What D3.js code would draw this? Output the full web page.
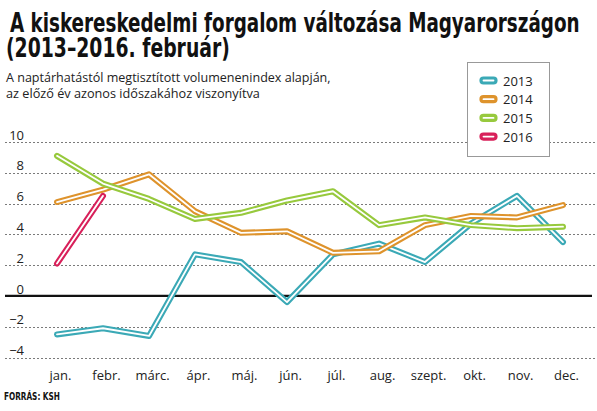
<!DOCTYPE html>
<html><head><meta charset="utf-8">
<script src="https://cdn.jsdelivr.net/npm/d3@7"></script>
<style>
body{margin:0;background:#fff;}
svg{display:block;}
</style></head>
<body><svg id="c" width="597" height="411"></svg>
<script>
const months = ["jan.","febr.","márc.","ápr.","máj.","jún.","júl.","aug.","szept.","okt.","nov.","dec."];
const s2013 = [-2.5,-2.1,-2.6,2.7,2.2,-0.4,2.7,3.4,2.2,4.7,6.5,3.5];
const s2014 = [6.1,6.9,7.9,5.5,4.1,4.2,2.8,2.9,4.6,5.2,5.1,5.9];
const s2015 = [9.1,7.3,6.3,5.0,5.4,6.2,6.8,4.6,5.1,4.6,4.4,4.5];
const s2016 = [2.1,6.5];
const seriesNames = ["2013","2014","2015","2016"];
const seriesColors = ["#3ba9b6","#de932c","#97c93d","#d8205a"];
const yTicks = [10,8,6,4,2,0,-2,-4];

const series = [s2013,s2014,s2015,s2016];
const svg = d3.select("#c");
const x = d3.scalePoint().domain(months).range([57,563]);
const y = d3.scaleLinear().domain([-4,10]).range([357.5,142]);

// fit a text to a target width by horizontal scaling
function fitText(sel, x0, y0, w){
  const nat = sel.node().getComputedTextLength();
  const sx = w / nat;
  sel.attr("x",0).attr("y",0).attr("transform",`translate(${x0},${y0}) scale(${sx},1)`);
}

// title
const tf = "'Liberation Sans Narrow','DejaVu Sans Condensed','Liberation Sans',sans-serif";
const t1 = svg.append("text").attr("font-family",tf).attr("font-weight","bold")
  .attr("font-size",27).attr("fill","#111")
  .text("A kiskereskedelmi forgalom változása Magyarországon");
fitText(t1,10,31.5,570);
const t2 = svg.append("text").attr("font-family",tf).attr("font-weight","bold")
  .attr("font-size",27).attr("fill","#111")
  .text("(2013–2016. február)");
fitText(t2,6,57,224);
const sf = "'Open Sans','Noto Sans',sans-serif";
const st1 = svg.append("text").attr("font-family",sf).attr("font-size",12.5).attr("fill","#222")
  .text("A naptárhatástól megtisztított volumenenindex alapján,");
fitText(st1,6,81.5,325);
const st2 = svg.append("text").attr("font-family",sf).attr("font-size",12.5).attr("fill","#222")
  .text("az előző év azonos időszakához viszonyítva");
fitText(st2,6,97.5,254);

// grid
const g = svg.append("g");
yTicks.filter(d=>d!==0).forEach(t=>{
  g.append("line").attr("x1",5).attr("x2",597).attr("y1",Math.round(y(t))+0.5).attr("y2",Math.round(y(t))+0.5)
   .attr("stroke","#7a7a7a").attr("stroke-width",1).attr("stroke-dasharray","2,2");
});
g.append("line").attr("x1",5).attr("x2",592).attr("y1",y(0)).attr("y2",y(0))
  .attr("stroke","#111").attr("stroke-width",2.2);

// y labels
const yAxis = d3.axisLeft(y).tickValues(yTicks).tickSize(0).tickFormat(d=>d<0?"−"+Math.abs(d):d);
const ya = svg.append("g").attr("transform","translate(24,-7)").call(yAxis);
ya.select(".domain").remove();
ya.selectAll("text").attr("font-family",sf).attr("font-size",13).attr("fill","#222").attr("dx",0).attr("x",0);

// x labels
const xAxis = d3.axisBottom(x).tickSize(0);
const xa = svg.append("g").attr("transform","translate(3,368)").call(xAxis);
xa.select(".domain").remove();
xa.selectAll("text").attr("font-family",sf).attr("font-size",13).attr("fill","#222").attr("dy","0.71em");

// lines
const line = d3.line().x((d,i)=>x(months[i])).y(d=>y(d));
series.forEach((s,i)=>{
  svg.append("path").attr("d",line(s)).attr("fill","none").attr("stroke",seriesColors[i])
    .attr("stroke-width",6).attr("stroke-linejoin","round").attr("stroke-linecap","round");
  svg.append("path").attr("d",line(s)).attr("fill","none").attr("stroke","#fff")
    .attr("stroke-width",1.8).attr("stroke-linejoin","round").attr("stroke-linecap","round");
});

// legend
const lg = svg.append("g");
lg.append("rect").attr("x",467.5).attr("y",62.5).attr("width",82).attr("height",94)
  .attr("fill","#fff").attr("stroke","#999").attr("stroke-width",1);
seriesNames.forEach((n,i)=>{
  const cy = 80.5 + i*18.7;
  lg.append("rect").attr("x",481).attr("y",cy-2.5).attr("width",15).attr("height",5).attr("rx",2.5)
    .attr("fill","#fff").attr("stroke",seriesColors[i]).attr("stroke-width",3.2);
  lg.append("text").attr("x",503).attr("y",cy+5).attr("font-family",sf).attr("font-size",13)
    .attr("fill","#222").text(n);
});

// source
const src = svg.append("text").attr("font-family",tf).attr("font-weight","bold")
  .attr("font-size",11).attr("fill","#111").text("FORRÁS: KSH");
fitText(src,4,400,56);
</script></body></html>
